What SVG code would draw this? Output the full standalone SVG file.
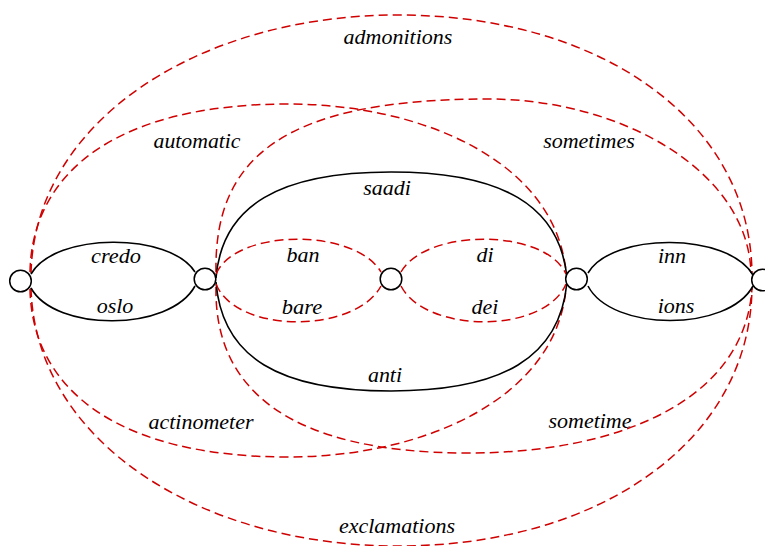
<svg xmlns="http://www.w3.org/2000/svg" width="765" height="546" viewBox="0 0 765 546">
<style>
.n{fill:#fff;stroke:#000;stroke-width:1.5}
.s{fill:none;stroke:#000;stroke-width:1.6}
.d{fill:none;stroke:#d00000;stroke-width:1.5;stroke-dasharray:9,5}
text{font-family:"Liberation Serif","Times New Roman",serif;font-style:italic;font-size:20px;text-anchor:middle;fill:#000}
</style>
<rect width="765" height="546" fill="#fff"/>
<g id="edges">
<path class="d" d="M31,273 C35,120 200,15 398,15 C600,15 750,120 752,273"/>
<path class="d" d="M31,288 C35,441 200,546 398,546 C600,546 750,441 752,288"/>
<path class="d" d="M30,272 C32,170 120,104 288,104 C420,104 555,160 566,272"/>
<path class="d" d="M30,289 C32,391 120,457 288,457 C420,457 555,401 566,289"/>
<path class="d" d="M216,272 C214,160 280,99 488,99 C620,99 748,170 751,273"/>
<path class="d" d="M216,287 C214,390 290,453 468,453 C620,453 745,400 752,288"/>
<path class="s" d="M31,274 C55,232 170,232 195,272"/>
<path class="s" d="M31,288 C55,332 170,332 195,286"/>
<path class="s" d="M216,278 C222,205 280,172 391,172 C502,172 560,205 567,278"/>
<path class="s" d="M216,282 C222,358 280,391 391,391 C502,391 560,358 567,282"/>
<path class="d" d="M216,274 C236,228 355,228 381,272"/>
<path class="d" d="M216,284 C236,334 355,334 381,286"/>
<path class="d" d="M401,272 C426,228 545,228 566,274"/>
<path class="d" d="M401,286 C426,334 545,334 566,284"/>
<path class="s" d="M588,273 C612,232 728,232 753,275"/>
<path class="s" d="M588,286 C612,332 728,332 753,286"/>
</g>
<g id="labels">
<text x="116" y="263" textLength="50" lengthAdjust="spacingAndGlyphs">credo</text>
<text x="115" y="313" textLength="36.7" lengthAdjust="spacingAndGlyphs">oslo</text>
<text x="387" y="195" textLength="47.7" lengthAdjust="spacingAndGlyphs">saadi</text>
<text x="385" y="382" textLength="34.2" lengthAdjust="spacingAndGlyphs">anti</text>
<text x="303" y="262" textLength="33" lengthAdjust="spacingAndGlyphs">ban</text>
<text x="302" y="314" textLength="40.3" lengthAdjust="spacingAndGlyphs">bare</text>
<text x="485" y="262" textLength="17.1" lengthAdjust="spacingAndGlyphs">di</text>
<text x="485" y="314" textLength="26.9" lengthAdjust="spacingAndGlyphs">dei</text>
<text x="672" y="263" textLength="28.1" lengthAdjust="spacingAndGlyphs">inn</text>
<text x="676" y="313" textLength="36.7" lengthAdjust="spacingAndGlyphs">ions</text>
<text x="398" y="44" textLength="108.8" lengthAdjust="spacingAndGlyphs">admonitions</text>
<text x="197" y="148" textLength="87" lengthAdjust="spacingAndGlyphs">automatic</text>
<text x="589" y="148" textLength="91.7" lengthAdjust="spacingAndGlyphs">sometimes</text>
<text x="201" y="429" textLength="105" lengthAdjust="spacingAndGlyphs">actinometer</text>
<text x="590" y="428" textLength="83.1" lengthAdjust="spacingAndGlyphs">sometime</text>
<text x="397" y="533" textLength="116.1" lengthAdjust="spacingAndGlyphs">exclamations</text>
</g>
<g id="n0"><circle class="n" cx="20.5" cy="281" r="10.8"/></g>
<g id="n1"><circle class="n" cx="205" cy="279" r="10.8"/></g>
<g id="n2"><circle class="n" cx="391" cy="279" r="10.8"/></g>
<g id="n3"><circle class="n" cx="576.5" cy="279" r="10.8"/></g>
<g id="n4"><circle class="n" cx="762.5" cy="280" r="10.8"/></g>
</svg>
